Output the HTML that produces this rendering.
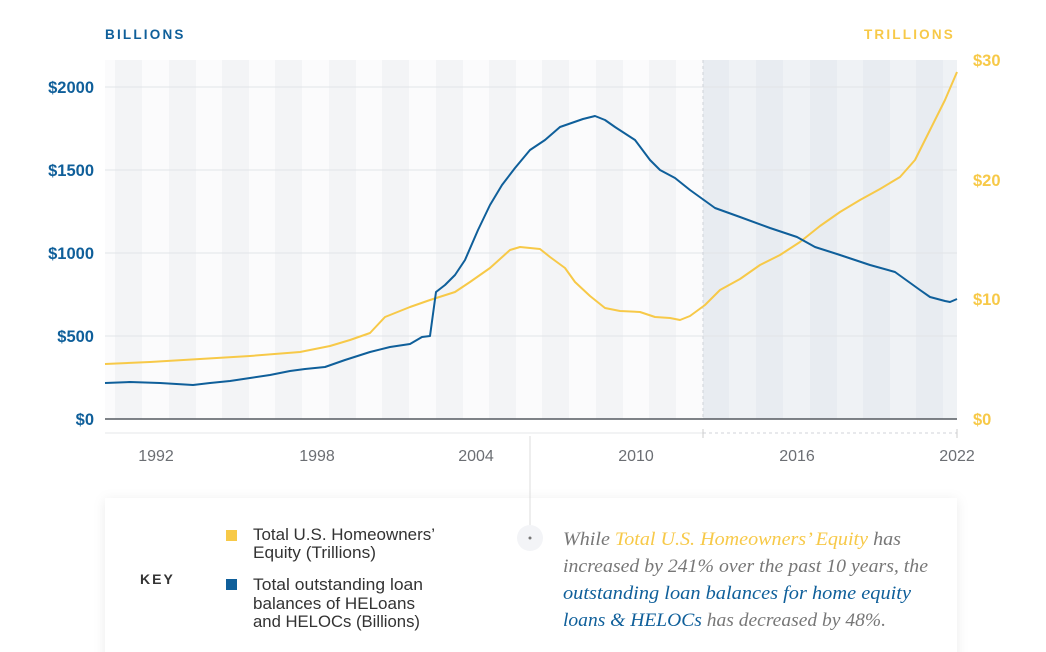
<!DOCTYPE html>
<html><head><style>
body{margin:0;background:#fff;width:1046px;height:652px;overflow:hidden;font-family:"Liberation Sans",sans-serif;}
</style></head><body>
<svg width="1046" height="652" xmlns="http://www.w3.org/2000/svg" style="position:absolute;left:0;top:0">
<defs><filter id="sh" x="-10%" y="-30%" width="120%" height="160%"><feDropShadow dx="0" dy="2" stdDeviation="6" flood-color="#000" flood-opacity="0.08"/></filter></defs>
<rect x="105" y="60" width="598" height="359" fill="#fbfbfc"/>
<g fill="#f3f4f6">
<rect x="115" y="60" width="27" height="359"/><rect x="169" y="60" width="27" height="359"/><rect x="222" y="60" width="27" height="359"/><rect x="275" y="60" width="27" height="359"/><rect x="329" y="60" width="27" height="359"/><rect x="382" y="60" width="27" height="359"/><rect x="436" y="60" width="27" height="359"/><rect x="489" y="60" width="27" height="359"/><rect x="542" y="60" width="27" height="359"/><rect x="596" y="60" width="27" height="359"/><rect x="649" y="60" width="27" height="359"/>
</g>
<rect x="703" y="60" width="254" height="359" fill="#eff2f5"/>
<g fill="#e8ecf1">
<rect x="703" y="60" width="26" height="359"/><rect x="756" y="60" width="27" height="359"/><rect x="810" y="60" width="27" height="359"/><rect x="863" y="60" width="27" height="359"/><rect x="916" y="60" width="27" height="359"/>
</g>
<g stroke="#e2e4e8" stroke-width="1">
<line x1="105" y1="87" x2="957" y2="87"/><line x1="105" y1="170" x2="957" y2="170"/><line x1="105" y1="253" x2="957" y2="253"/><line x1="105" y1="336" x2="957" y2="336"/>
</g>
<line x1="703" y1="60" x2="703" y2="419" stroke="#cfd3d9" stroke-dasharray="3,3"/>
<line x1="105" y1="419" x2="957" y2="419" stroke="#555a60" stroke-width="1.5"/>
<line x1="105" y1="433" x2="703" y2="433" stroke="#e6e7ea"/>
<line x1="703" y1="433" x2="957" y2="433" stroke="#d0d3d8" stroke-dasharray="3,3"/>
<line x1="703" y1="429" x2="703" y2="438" stroke="#ccc"/><line x1="957" y1="429" x2="957" y2="438" stroke="#ccc"/>
<polyline fill="none" stroke="#f7c948" stroke-width="2" stroke-linejoin="round" points="105,364 150,362 200,359 250,356 300,352 330,346 350,340 370,333 385,317 410,307 430,300 455,292 470,282 490,268 510,250 520,247 540,249 550,257 565,268 575,282 590,296 605,308 620,311 640,312 655,317 670,318 680,320 690,316 705,305 720,290 740,279 760,265 780,255 800,242 820,226 840,212 860,200 880,189 900,177 915,160 930,130 945,100 957,72"/>
<polyline fill="none" stroke="#0f5f9a" stroke-width="2" stroke-linejoin="round" points="105,383 130,382 160,383 193,385 210,383 230,381 250,378 270,375 290,371 305,369 325,367 345,360 370,352 390,347 410,344 422,337 430,336 436,292 445,285 455,275 465,260 478,230 490,205 502,185 515,168 530,150 545,140 560,127 583,119 595,116 605,120 615,127 635,140 650,160 660,170 675,178 690,190 715,208 740,217 770,228 797,237 815,247 840,255 870,265 895,272 920,290 930,297 945,301 950,302 957,299"/>
<g font-weight="bold" font-size="13.5" letter-spacing="2.2">
<text x="105" y="39" fill="#0f5f9a">BILLIONS</text>
<text x="955" y="39" fill="#f7c948" text-anchor="end">TRILLIONS</text>
</g>
<g font-size="16.5" fill="#0f5f9a" text-anchor="end" font-weight="bold">
<text x="94" y="93">$2000</text><text x="94" y="176">$1500</text><text x="94" y="259">$1000</text><text x="94" y="342">$500</text><text x="94" y="425">$0</text>
</g>
<g font-size="16.5" fill="#f7c948" font-weight="bold">
<text x="973" y="66">$30</text><text x="973" y="186">$20</text><text x="973" y="305">$10</text><text x="973" y="425">$0</text>
</g>
<g font-size="16" fill="#6b6e73" text-anchor="middle">
<text x="156" y="461">1992</text><text x="317" y="461">1998</text><text x="476" y="461">2004</text><text x="636" y="461">2010</text><text x="797" y="461">2016</text><text x="957" y="461">2022</text>
</g>
<rect x="105" y="498" width="852" height="170" fill="#fff" filter="url(#sh)"/>
<line x1="530" y1="436" x2="530" y2="528" stroke="#ddd"/>
<circle cx="530" cy="538" r="13" fill="#f3f4f7"/><circle cx="530" cy="538" r="1.5" fill="#777"/>
<text x="140" y="584" font-size="14" font-weight="bold" letter-spacing="2" fill="#333">KEY</text>
<rect x="226" y="530" width="11" height="11" fill="#f7c948"/>
<rect x="226" y="579" width="11" height="11" fill="#0f5f9a"/>
<g font-size="16.5" fill="#333">
<text x="253" y="540" textLength="182" lengthAdjust="spacingAndGlyphs">Total U.S. Homeowners’</text><text x="253" y="558" textLength="123" lengthAdjust="spacingAndGlyphs">Equity (Trillions)</text>
<text x="253" y="590" textLength="170" lengthAdjust="spacingAndGlyphs">Total outstanding loan</text><text x="253" y="609" textLength="162" lengthAdjust="spacingAndGlyphs">balances of HELoans</text><text x="253" y="627" textLength="167" lengthAdjust="spacingAndGlyphs">and HELOCs (Billions)</text>
</g>
<g font-family="Liberation Serif,serif" font-style="italic" font-size="18.5" fill="#777">
<text x="563" y="545" textLength="338" lengthAdjust="spacingAndGlyphs">While <tspan fill="#f7c948">Total U.S. Homeowners’ Equity</tspan> has</text>
<text x="563" y="572" textLength="365" lengthAdjust="spacingAndGlyphs">increased by 241% over the past 10 years, the</text>
<text x="563" y="599" fill="#0f5f9a" textLength="348" lengthAdjust="spacingAndGlyphs">outstanding loan balances for home equity</text>
<text x="563" y="626" textLength="323" lengthAdjust="spacingAndGlyphs"><tspan fill="#0f5f9a">loans &amp; HELOCs</tspan> has decreased by 48%.</text>
</g>
</svg>
</body></html>
